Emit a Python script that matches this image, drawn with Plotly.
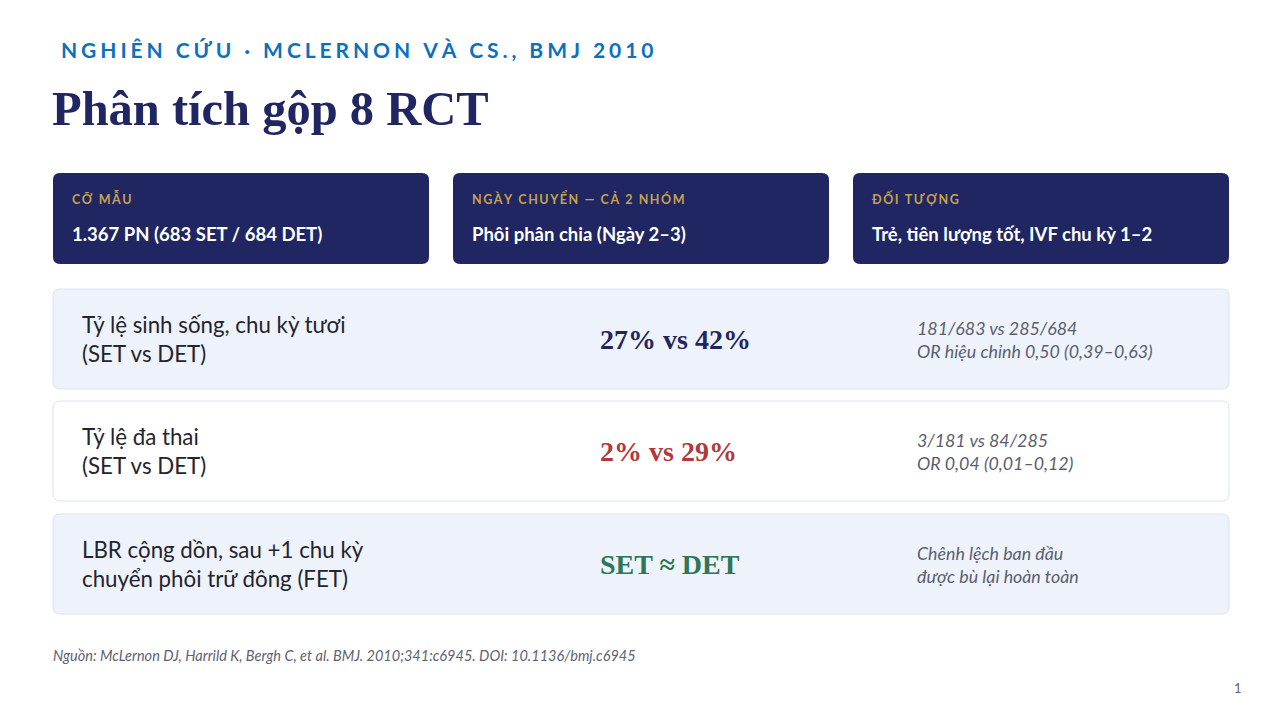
import plotly.graph_objects as go

# ---- nội dung slide ----
KICKER = "NGHIÊN CỨU · MCLERNON VÀ CS., BMJ 2010"
TITLE = "Phân tích gộp 8 RCT"

card_labels = ["CỠ MẪU", "NGÀY CHUYỂN — CẢ 2 NHÓM", "ĐỐI TƯỢNG"]
card_values = [
    "1.367 PN (683 SET / 684 DET)",
    "Phôi phân chia (Ngày 2–3)",
    "Trẻ, tiên lượng tốt, IVF chu kỳ 1–2",
]

row_labels = [
    "Tỷ lệ sinh sống, chu kỳ tươi<br>(SET vs DET)",
    "Tỷ lệ đa thai<br>(SET vs DET)",
    "LBR cộng dồn, sau +1 chu kỳ<br>chuyển phôi trữ đông (FET)",
]
row_values = ["27% vs 42%", "2% vs 29%", "SET ≈ DET"]
row_notes = [
    "181/683 vs 285/684<br>OR hiệu chỉnh 0,50 (0,39–0,63)",
    "3/181 vs 84/285<br>OR 0,04 (0,01–0,12)",
    "Chênh lệch ban đầu<br>được bù lại hoàn toàn",
]

SOURCE = "Nguồn: McLernon DJ, Harrild K, Bergh C, et al. BMJ. 2010;341:c6945. DOI: 10.1136/bmj.c6945"
PAGE = "1"

NAVY = "#1F2662"
BLUE = "#0B70C0"
GOLD = "#C9A14E"
VALUE_COLORS = ["#1F2662", "#B2393B", "#2E7657"]
ROW_FILLS = ["#EEF2FB", "#FFFFFF", "#EEF2FB"]
SANS = "Lato, 'Noto Sans', sans-serif"
SERIF = "'Liberation Serif', 'DejaVu Serif', serif"


def spaced(text, sep="\u200a"):
    # poor man's letter-spacing
    return sep.join(text)


def rounded_rect(x0, y0, x1, y1, r=6):
    return (f"M{x0 + r},{y0} L{x1 - r},{y0} Q{x1},{y0} {x1},{y0 + r} "
            f"L{x1},{y1 - r} Q{x1},{y1} {x1 - r},{y1} L{x0 + r},{y1} "
            f"Q{x0},{y1} {x0},{y1 - r} L{x0},{y0 + r} Q{x0},{y0} {x0 + r},{y0} Z")


fig = go.Figure()
shapes = []
annotations = []


def add_text(x, y, text, size, color, family=SANS, weight="normal", style="normal",
             xanchor="left", yanchor="middle"):
    annotations.append(dict(
        x=x, y=y, xref="x", yref="y", text=text, showarrow=False,
        xanchor=xanchor, yanchor=yanchor, align="left",
        font=dict(size=size, color=color, family=family, weight=weight, style=style),
    ))


# header
add_text(59, 49, spaced(KICKER, "\u2009\u200a"), 21, BLUE, weight="bold")
add_text(50, 108, TITLE, 48.5, NAVY, family=SERIF, weight="bold")

# cards du lieu tom tat
card_w, card_gap = 376, 24
for i, (lab, val) in enumerate(zip(card_labels, card_values)):
    x0 = 53 + i * (card_w + card_gap)
    shapes.append(dict(type="path", path=rounded_rect(x0, 173, x0 + card_w, 264, 7),
                       fillcolor=NAVY, line=dict(width=0), layer="below"))
    add_text(x0 + 17, 198, spaced(lab, "\u2009"), 12.5, GOLD, weight="bold")
    add_text(x0 + 17, 234, val, 18.5, "#FFFFFF", weight="bold")

# cac dong ket qua
row_tops = [289, 401, 514]
row_h = 100
for i in range(len(row_labels)):
    y0 = row_tops[i]
    shapes.append(dict(type="path", path=rounded_rect(53, y0, 1229, y0 + row_h, 7),
                       fillcolor=ROW_FILLS[i], line=dict(color="#DCE3F1", width=1),
                       layer="below"))
    yc = y0 + row_h / 2
    add_text(80, yc, row_labels[i], 22.3, "#23242E")
    add_text(598, yc, row_values[i], 28, VALUE_COLORS[i], family=SERIF, weight="bold")
    add_text(915, yc, row_notes[i], 17.8, "#5A5E70", style="italic")

# chu thich nguon + so trang
add_text(51, 655, SOURCE, 14.5, "#5E6275", style="italic")
add_text(1238, 688, PAGE, 13, "#5E6275", xanchor="center")

fig.update_layout(
    width=1280, height=720,
    margin=dict(l=0, r=0, t=0, b=0),
    paper_bgcolor="white", plot_bgcolor="white",
    showlegend=False,
    shapes=shapes, annotations=annotations,
    xaxis=dict(range=[0, 1280], visible=False, fixedrange=True),
    yaxis=dict(range=[720, 0], visible=False, fixedrange=True),
)

fig.write_html("out.html", config={"displayModeBar": False},
               post_script="document.body.style.margin='0';")
